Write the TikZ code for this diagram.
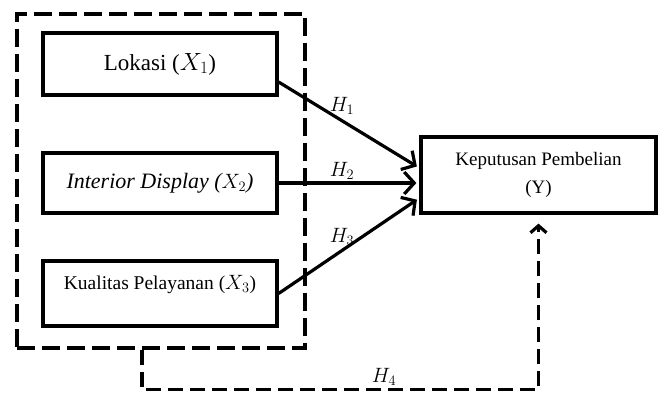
\documentclass[tikz,border=0pt]{standalone}
\usepackage{fontspec}
\setmainfont{Liberation Serif}
\usetikzlibrary{arrows.meta}
\begin{document}
\begin{tikzpicture}[x=1pt,y=-1pt,
  box/.style={draw,line width=3.2pt,inner sep=0pt,align=center},
  arr/.style={line width=3.2pt,-{Straight Barb[length=10pt,width=22pt,line width=3.2pt]},shorten >=3pt},
  grpbox/.style={draw,line width=3.6pt,dash pattern=on 18pt off 7pt,inner sep=0pt},
  fb/.style={line width=3.2pt,dash pattern=on 15pt off 7pt,-{Straight Barb[length=7pt,width=16pt,line width=3.2pt]},shorten >=9pt},
  hl/.style={font=\fontsize{22}{26}\selectfont,inner sep=0pt}]
\useasboundingbox (0,0) rectangle (660,392);
\node[grpbox,minimum width=288pt,minimum height=334pt] (grp) at (161,181) {};
\node[box,minimum width=234pt,minimum height=62pt,font=\fontsize{23}{27}\selectfont] (b1) at (160,64) {Lokasi ($X_1$)};
\node[box,minimum width=234pt,minimum height=60pt,font=\fontsize{22}{26}\selectfont\itshape] (b2) at (160,183) {Interior Display ($X_2$)};
\node[box,minimum width=234pt,minimum height=65pt,font=\fontsize{19.5}{23}\selectfont,text depth=22pt] (b3) at (160,293.5) {Kualitas Pelayanan ($X_3$)};
\node[box,minimum width=235pt,minimum height=76pt,font=\fontsize{19}{28}\selectfont] (Y) at (538.5,175) {Keputusan Pembelian\\(Y)};
\draw[arr] ([yshift=-18pt]b1.east) -- ([yshift=7pt]Y.west);
\draw[arr] (b2.east) -- ([yshift=-8pt]Y.west);
\draw[arr] (b3.east) -- ([yshift=-23pt]Y.west);
\draw[fb] ([xshift=-19pt]grp.south) -- ++(0,40) -| (Y.south);
\node[hl] (h1) at (342,106) {$H_1$};
\node[hl] (h2) at (342,171) {$H_2$};
\node[hl] (h3) at (342,237) {$H_3$};
\node[hl] (h4) at (384,377) {$H_4$};
\end{tikzpicture}
\end{document}
